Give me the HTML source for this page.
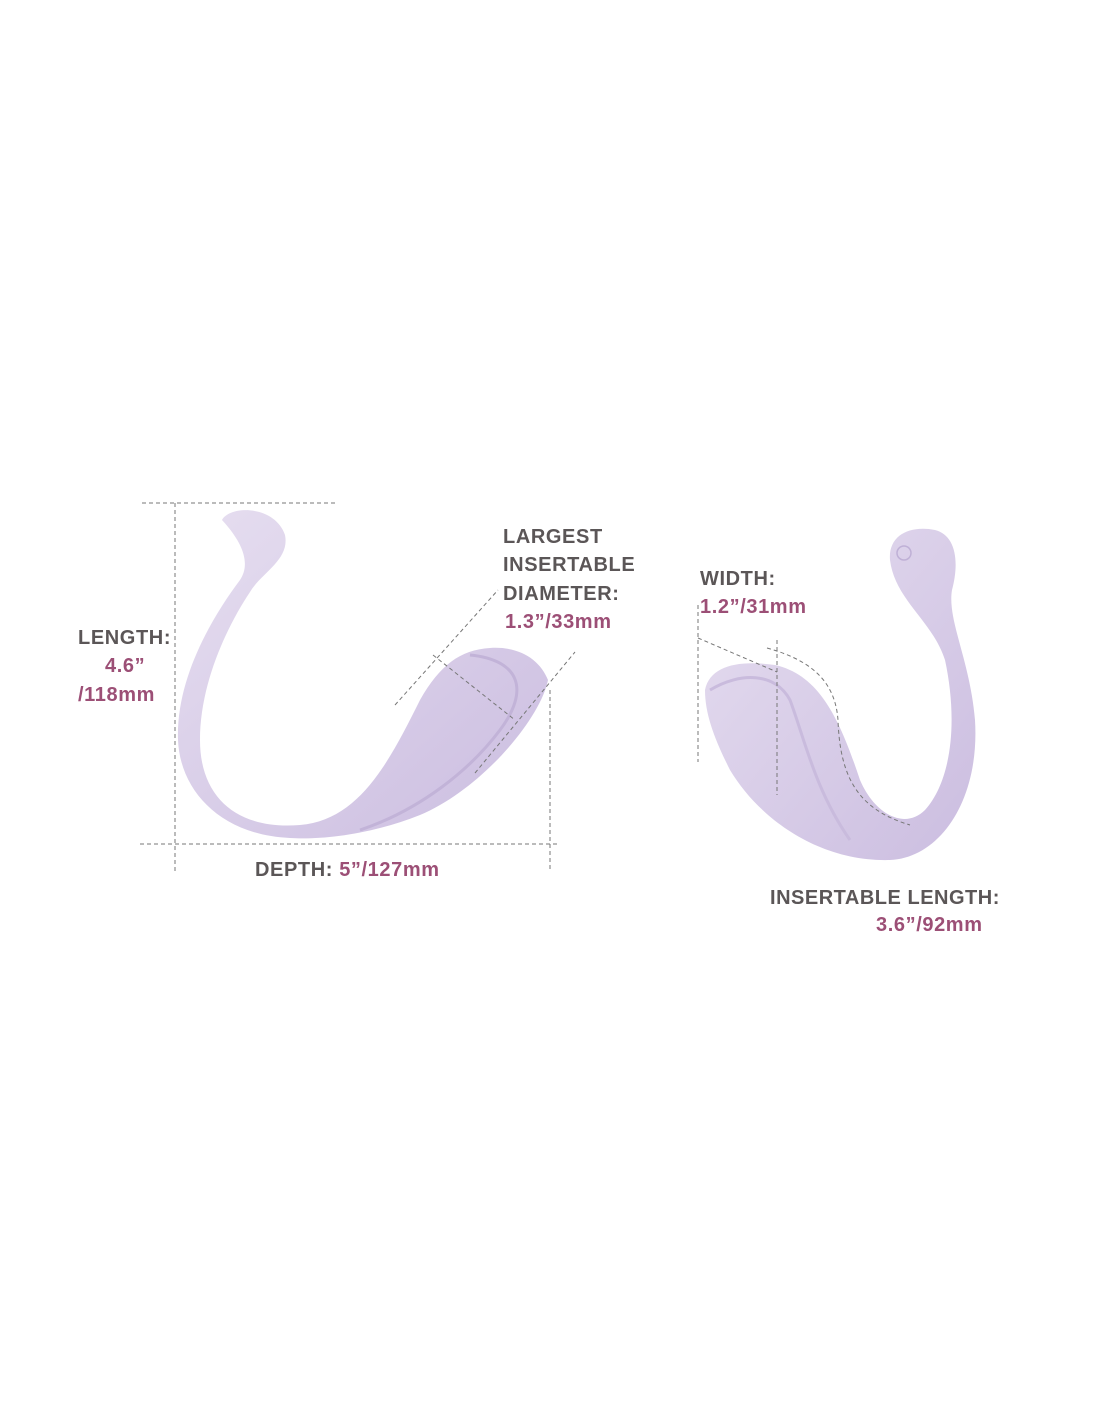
<!DOCTYPE html>
<html><head><style>
html,body{margin:0;padding:0;background:#fff;}
svg{display:block}
text{font-family:"Liberation Sans",sans-serif;font-weight:bold;font-size:20px;letter-spacing:0.6px}
.g{fill:#5b5657}.p{fill:#9c4f76}
</style></head><body>
<svg width="1100" height="1422" viewBox="0 0 1100 1422">
<defs>
<linearGradient id="lg" x1="0" y1="0" x2="1" y2="1">
<stop offset="0" stop-color="#e6def0"/><stop offset="1" stop-color="#cbbde0"/></linearGradient>
</defs>
<path d="M222,520 C230,505 275,505 285,535 C290,560 262,572 250,592 C228,625 200,682 200,740 C200,800 240,830 300,825 C360,820 390,760 420,700 C440,665 460,650 490,648 C520,646 540,660 548,680 C540,720 480,790 420,815 C370,835 320,840 290,838 C220,835 180,790 178,740 C176,680 210,620 240,580 C250,565 245,545 222,520 Z" fill="url(#lg)"/>
<path d="M470,655 C520,660 530,690 500,730 C470,770 420,810 360,830" fill="none" stroke="#c2b3d8" stroke-width="3"/>
<path d="M705,690 C710,665 740,660 775,665 C820,675 840,720 860,780 C875,815 905,830 925,810 C952,780 958,720 945,660 C932,620 895,600 890,560 C888,535 910,525 935,530 C955,535 960,560 952,590 C947,620 970,660 975,720 C980,800 940,858 890,860 C820,862 760,820 730,770 C715,740 705,715 705,690 Z" fill="url(#lg)"/>
<path d="M710,690 C740,672 775,672 790,700 C805,740 815,790 850,840" fill="none" stroke="#c9bbdd" stroke-width="3"/>
<circle cx="904" cy="553" r="7" fill="none" stroke="#bfb0d6" stroke-width="1.5"/>
<g fill="none" stroke="#777" stroke-width="1" stroke-dasharray="4,3">
<line x1="142" y1="503" x2="335" y2="503"/>
<line x1="175" y1="503" x2="175" y2="872"/>
<line x1="140" y1="844" x2="557" y2="844"/>
<line x1="550" y1="690" x2="550" y2="872"/>
<line x1="395" y1="705" x2="498" y2="590"/>
<line x1="433" y1="655" x2="515" y2="720"/>
<line x1="475" y1="773" x2="575" y2="652"/>
<line x1="698" y1="605" x2="698" y2="762"/>
<line x1="698" y1="638" x2="777" y2="672"/>
<line x1="777" y1="640" x2="777" y2="795"/>
<path d="M767,648 C810,660 835,680 838,720 C840,780 860,810 910,825"/>
</g>
<text x="78" y="644" class="g">LENGTH:</text>
<text x="105" y="672" class="p">4.6”</text>
<text x="78" y="701" class="p">/118mm</text>
<text x="503" y="543" class="g">LARGEST</text>
<text x="503" y="571" class="g">INSERTABLE</text>
<text x="503" y="600" class="g">DIAMETER:</text>
<text x="505" y="628" class="p">1.3”/33mm</text>
<text x="255" y="876" class="g">DEPTH: <tspan class="p">5”/127mm</tspan></text>
<text x="700" y="585" class="g">WIDTH:</text>
<text x="700" y="613" class="p">1.2”/31mm</text>
<text x="770" y="904" class="g" textLength="230">INSERTABLE LENGTH:</text>
<text x="876" y="931" class="p">3.6”/92mm</text>
</svg>
</body></html>
